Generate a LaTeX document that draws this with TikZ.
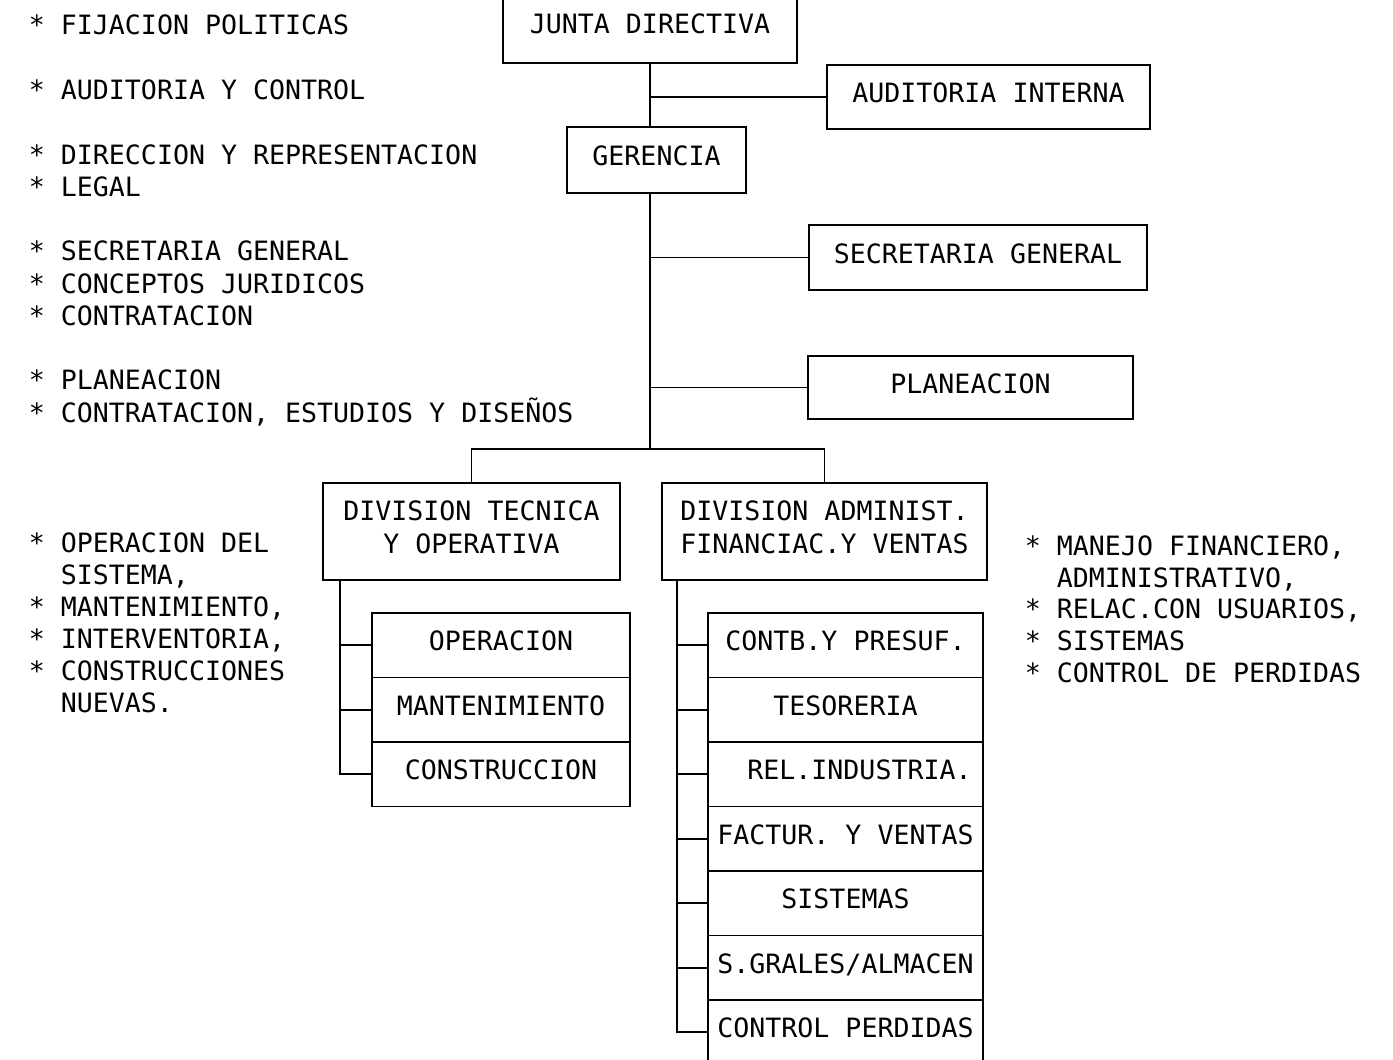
\documentclass[tikz,border=0pt]{standalone}
\usepackage{fontspec}
\newfontfamily\dotfont{DejaVu Sans Mono}
\begin{document}
\begin{tikzpicture}[x=1pt,y=-1pt,line width=1.8pt,
  every node/.style={font=\dotfont\fontsize{26.6pt}{33pt}\selectfont,inner sep=0pt},
  box/.style={draw,text height=19.4pt,text depth=8pt},
  boxtwo/.style={draw,align=center,text height=52.4pt,text depth=8pt},
  note/.style={anchor=base west}]
\fill[white] (0,0) rectangle (1393,1060);
\useasboundingbox (0,0) rectangle (1393,1060);

% main boxes
\node[box,minimum width=294pt,minimum height=70pt] (junta) at (650,28) {JUNTA DIRECTIVA};
\node[box,minimum width=323pt,minimum height=64pt] (audit) at (988.5,97) {AUDITORIA INTERNA};
\node[box,minimum width=179pt,minimum height=66pt] (ger) at (656.5,160) {GERENCIA};
\node[box,minimum width=338pt,minimum height=65pt] (sec) at (978,257.5) {SECRETARIA GENERAL};
\node[box,minimum width=325pt,minimum height=63pt] (plan) at (970.5,387.5) {PLANEACION};
\node[boxtwo,minimum width=297pt,minimum height=97pt] (dtec) at (471.5,531.5) {DIVISION TECNICA\\Y OPERATIVA};
\node[boxtwo,minimum width=325pt,minimum height=97pt] (dadm) at (824.5,531.5) {DIVISION ADMINIST.\\FINANCIAC.Y VENTAS};

% left stack
\node[box,minimum width=258pt,minimum height=64.5pt] (op) at (501,645.25) {OPERACION};
\node[box,minimum width=258pt,minimum height=64.5pt] (mant) at (501,709.75) {MANTENIMIENTO};
\node[box,minimum width=258pt,minimum height=64.5pt] (cons) at (501,774.25) {CONSTRUCCION};

% right stack
\node[box,minimum width=275pt,minimum height=64.5pt] (contb) at (845.5,645.25) {CONTB.Y PRESUF.};
\node[box,minimum width=275pt,minimum height=64.5pt] (teso) at (845.5,709.75) {TESORERIA};
\node[box,minimum width=275pt,minimum height=64.5pt] (rel) at (845.5,774.25) {\hspace*{28pt}REL.INDUSTRIA.};
\node[box,minimum width=275pt,minimum height=64.5pt] (fact) at (845.5,838.75) {FACTUR. Y VENTAS};
\node[box,minimum width=275pt,minimum height=64.5pt] (sist) at (845.5,903.25) {SISTEMAS};
\node[box,minimum width=275pt,minimum height=64.5pt] (sgral) at (845.5,967.75) {S.GRALES/ALMACEN};
\node[box,minimum width=275pt,minimum height=64.5pt] (cperd) at (845.5,1032.25) {CONTROL PERDIDAS};

% connectors
\coordinate (bar) at (650,449);
\coordinate (ls) at (340,0);
\coordinate (rs) at (677,0);
\draw (junta.south) -- (junta.south |- ger.north);
\draw (junta.south |- audit.west) -- (audit.west);
\draw (ger.south -| bar) -- (bar);
\draw (bar |- sec.west) -- (sec.west);
\draw (bar |- plan.west) -- (plan.west);
\draw (dtec.north) -- (dtec.north |- bar) -- (dadm.north |- bar) -- (dadm.north);
\draw (ls |- dtec.south) |- (cons.west);
\draw (ls |- op.west) -- (op.west);
\draw (ls |- mant.west) -- (mant.west);
\draw (rs |- dadm.south) |- (cperd.west);
\draw (rs |- contb.west) -- (contb.west);
\draw (rs |- teso.west) -- (teso.west);
\draw (rs |- rel.west) -- (rel.west);
\draw (rs |- fact.west) -- (fact.west);
\draw (rs |- sist.west) -- (sist.west);
\draw (rs |- sgral.west) -- (sgral.west);

% left notes
\node[note] (n1) at (28,34.7) {* FIJACION POLITICAS};
\node[note] (n2) at (28,99.7) {* AUDITORIA Y CONTROL};
\node[note] (n3) at (28,164.7) {* DIRECCION Y REPRESENTACION};
\node[note] (n4) at (28,196.7) {* LEGAL};
\node[note] (n5) at (28,260.7) {* SECRETARIA GENERAL};
\node[note] (n6) at (28,293.7) {* CONCEPTOS JURIDICOS};
\node[note] (n7) at (28,325.7) {* CONTRATACION};
\node[note] (n8) at (28,389.7) {* PLANEACION};
\node[note] (n9) at (28,422.7) {* CONTRATACION, ESTUDIOS Y DISEÑOS};

\node[note] (t1) at (28,552.7) {* OPERACION DEL};
\node[note] (t2) at (60,584.7) {SISTEMA,};
\node[note] (t3) at (28,616.7) {* MANTENIMIENTO,};
\node[note] (t4) at (28,648.7) {* INTERVENTORIA,};
\node[note] (t5) at (28,680.7) {* CONSTRUCCIONES};
\node[note] (t6) at (60,712.7) {NUEVAS.};

% right notes
\node[note] (r1) at (1024,555.7) {* MANEJO FINANCIERO,};
\node[note] (r2) at (1056,587.7) {ADMINISTRATIVO,};
\node[note] (r3) at (1024,618.7) {* RELAC.CON USUARIOS,};
\node[note] (r4) at (1024,650.7) {* SISTEMAS};
\node[note] (r5) at (1024,682.7) {* CONTROL DE PERDIDAS};
\end{tikzpicture}
\end{document}
